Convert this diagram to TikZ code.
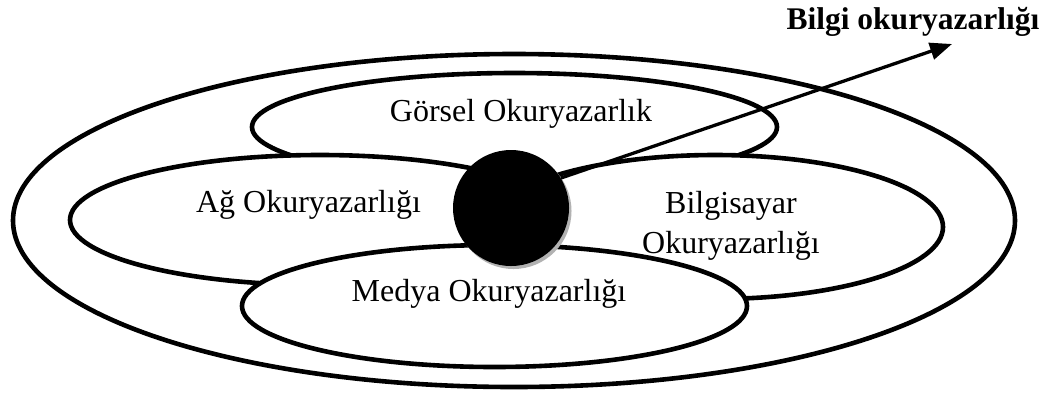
\documentclass[tikz,border=0pt]{standalone}
\usepackage{fontspec}
\setmainfont{Liberation Serif}
\usetikzlibrary{shapes.geometric,arrows.meta}
\tikzset{
  ring/.style={draw=black, fill=white, line width=4.6pt, ellipse, inner sep=0pt, outer sep=0pt},
  lbl/.style={font=\fontsize{32}{40}\selectfont, inner sep=0pt, anchor=base},
  title/.style={font=\fontsize{31.5}{38}\selectfont\bfseries, inner sep=0pt, anchor=base},
  pointer/.style={draw=black, line width=3.3pt, -{Triangle[length=22pt,width=17pt]}}
}
\begin{document}
\begin{tikzpicture}[x=1pt,y=-1pt]
\useasboundingbox (0,0) rectangle (1049,392);
\node[ring, minimum width=1002pt, minimum height=333pt] (outer) at (514,220.5) {};
\node[ring, minimum width=525pt, minimum height=108pt] (gorsel) at (514.5,127) {};
\node[ring, minimum width=500pt, minimum height=130pt] (ag) at (320,220) {};
\node[ring, minimum width=456pt, minimum height=144pt] (bilgisayar) at (715,227) {};
\node[ring, minimum width=505pt, minimum height=122pt] (medya) at (494.5,306) {};
\node[circle, fill=black!30, minimum size=116pt, inner sep=0pt] (shadow) at (513.5,211) {};
\node[circle, fill=black, minimum size=116pt, inner sep=0pt] (dot) at (511,208) {};
\coordinate (tip) at (952,44);
\draw[pointer] (dot.31) -- (tip);
\node[lbl] (tgorsel) at (521,121) {Görsel Okuryazarlık};
\node[lbl] (tag) at (308.5,212) {Ağ Okuryazarlığı};
\node[lbl, align=center] (tbilg) at (731,253) {Bilgisayar\\Okuryazarlığı};
\node[lbl] (tmedya) at (489,301) {Medya Okuryazarlığı};
\node[title] (tbilgi) at (913,29) {Bilgi okuryazarlığı};
\end{tikzpicture}
\end{document}
